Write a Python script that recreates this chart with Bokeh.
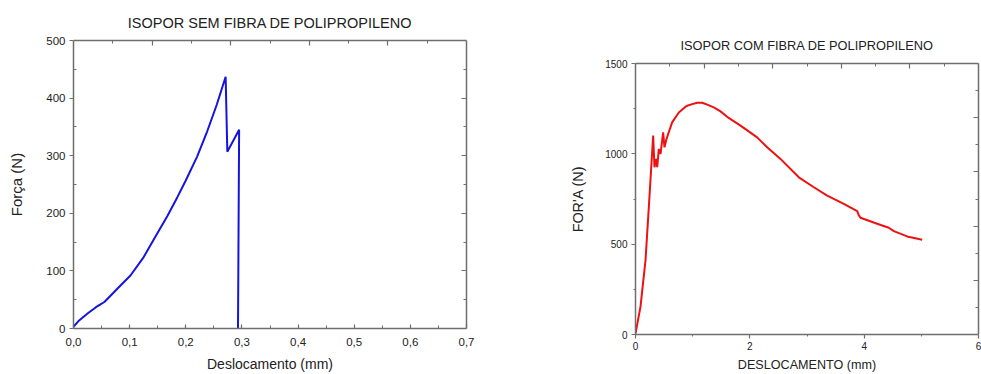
from bokeh.plotting import figure
from bokeh.layouts import row, column
from bokeh.models import Range1d, LinearAxis, FixedTicker, CustomJSTickFormatter, Spacer
from bokeh.embed import file_html
from bokeh.resources import INLINE

# ---- data: left chart (sem fibra) ----
sem_x = [0.0, 0.010, 0.025, 0.040, 0.048, 0.055, 0.072, 0.085, 0.1015, 0.125, 0.145, 0.167, 0.185,
         0.1995, 0.220, 0.238, 0.255, 0.271, 0.274, 0.295, 0.293]
sem_y = [3, 14, 26, 37, 42, 46, 63, 76, 92, 124, 158, 195, 228, 256, 298, 342, 388, 437, 307, 345, 0]

# ---- data: right chart (com fibra) ----
com_x = [0.0, 0.087, 0.175, 0.233, 0.309, 0.332, 0.36, 0.38, 0.408, 0.437, 0.484, 0.507, 0.542,
         0.641, 0.758, 0.875, 0.904, 0.991, 1.079, 1.166, 1.254, 1.37, 1.487, 1.603, 1.837, 2.128,
         2.303, 2.536, 2.857, 3.12, 3.353, 3.644, 3.878, 3.907, 3.936, 4.227, 4.431, 4.519, 4.752,
         5.015]
com_y = [5, 153, 410, 705, 1101, 926, 972, 926, 1027, 999, 1119, 1036, 1082, 1174, 1229, 1261,
         1266, 1275, 1283, 1283, 1272, 1257, 1235, 1205, 1156, 1091, 1036, 972, 870, 815, 769, 723,
         683, 659, 646, 613, 591, 572, 543, 525]

left_xticks = [0.0, 0.1, 0.2, 0.3, 0.4, 0.5, 0.6, 0.7]
left_yticks = [0, 100, 200, 300, 400, 500]
right_xticks = [0, 2, 4, 6]
right_yticks = [0, 500, 1000, 1500]

FONT = "Liberation Sans"
AX = "#6e6e6e"
TXT = "#222222"


def style_axis(ax, labels=True):
    ax.axis_line_color = AX
    ax.axis_line_width = 1.5
    ax.major_tick_line_color = AX
    ax.minor_tick_line_color = AX
    ax.major_tick_line_width = 1.2
    ax.minor_tick_line_width = 1.0
    ax.major_label_text_font = FONT
    ax.major_label_text_color = TXT
    ax.axis_label_text_font = FONT
    ax.axis_label_text_font_style = "normal"
    ax.axis_label_text_color = TXT
    if not labels:
        ax.major_label_text_alpha = 0
        ax.major_label_text_font_size = "0px"
        ax.major_label_standoff = 0
        ax.major_tick_in = 5
        ax.major_tick_out = 0
        ax.minor_tick_in = 3
        ax.minor_tick_out = 0


def make_fig(width, height, xr, yr, title, borders, tsize, tstand):
    p = figure(width=width, height=height, x_range=Range1d(*xr), y_range=Range1d(*yr),
               output_backend="svg", toolbar_location=None, title=title,
               min_border_left=borders[0], min_border_right=borders[1],
               min_border_top=borders[2], min_border_bottom=borders[3])
    p.grid.visible = False
    p.outline_line_color = None
    p.title.text_font = FONT
    p.title.text_font_size = tsize
    p.title.text_font_style = "normal"
    p.title.text_color = TXT
    p.title.align = "center"
    p.title.standoff = tstand
    return p


# ---------- left ----------
p1 = make_fig(548, 374, (0, 0.7), (0, 500), "ISOPOR SEM FIBRA DE POLIPROPILENO", (73, 82, 40, 44), "14.5px", 19)
p1.line(sem_x, sem_y, line_color="#1414e0", line_width=2)
p1.xaxis.ticker = FixedTicker(ticks=left_xticks, minor_ticks=[0.05, 0.15, 0.25, 0.35, 0.45, 0.55, 0.65])
p1.xaxis.formatter = CustomJSTickFormatter(code="return tick.toFixed(1).replace('.', ',');")
p1.yaxis.ticker = FixedTicker(ticks=left_yticks, minor_ticks=[50, 150, 250, 350, 450])
p1.xaxis.axis_label = "Deslocamento (mm)"
p1.yaxis.axis_label = "Força (N)"
for ax in p1.xaxis + p1.yaxis:
    style_axis(ax)
    ax.major_label_text_font_size = "11.5px"
    ax.major_tick_in = 4
    ax.major_tick_out = 0
    ax.minor_tick_in = 3
    ax.minor_tick_out = 0
p1.xaxis.axis_label_text_font_size = "14px"
p1.xaxis.major_label_standoff = 9
p1.xaxis.axis_label_standoff = 7
p1.yaxis.axis_label_text_font_size = "15px"
p1.yaxis.major_tick_in = 0
p1.yaxis.major_tick_out = 4
p1.yaxis.major_label_standoff = 4
p1.yaxis.axis_label_standoff = 18

top1 = LinearAxis(ticker=FixedTicker(ticks=[0.14, 0.28, 0.42, 0.56], minor_ticks=[0.07, 0.21, 0.35, 0.49, 0.63]))
style_axis(top1, labels=False)
p1.add_layout(top1, "above")
right1 = LinearAxis(ticker=FixedTicker(ticks=[100, 200, 300, 400], minor_ticks=[50, 150, 250, 350, 450]))
style_axis(right1, labels=False)
p1.add_layout(right1, "right")

# ---------- right ----------
p2 = make_fig(433, 356, (0, 6), (0, 1500), "ISOPOR COM FIBRA DE POLIPROPILENO", (87, 3, 45, 40), "12.8px", 22)
p2.line(com_x, com_y, line_color="#ee1111", line_width=2)
p2.xaxis.ticker = FixedTicker(ticks=right_xticks, minor_ticks=[1, 3, 5])
p2.yaxis.ticker = FixedTicker(ticks=right_yticks, minor_ticks=[250, 750, 1250])
p2.xaxis.axis_label = "DESLOCAMENTO (mm)"
p2.yaxis.axis_label = "FOR'A (N)"
for ax in p2.xaxis + p2.yaxis:
    style_axis(ax)
    ax.major_label_text_font_size = "10px"
    ax.major_tick_in = 0
    ax.major_tick_out = 4
    ax.minor_tick_in = 0
    ax.minor_tick_out = 2
    ax.major_label_standoff = 4
p2.xaxis.major_label_standoff = 3
p2.xaxis.axis_label_text_font_size = "12.6px"
p2.xaxis.axis_label_standoff = 5
p2.yaxis.axis_label_text_font_size = "14.4px"
p2.yaxis.axis_label_standoff = 16

top2 = LinearAxis(ticker=FixedTicker(ticks=[1.2, 2.4, 3.6, 4.8], minor_ticks=[0.6, 1.8, 3.0, 4.2, 5.4]))
style_axis(top2, labels=False)
p2.add_layout(top2, "above")
right2 = LinearAxis(ticker=FixedTicker(ticks=[300, 600, 900, 1200], minor_ticks=[150, 450, 750, 1050, 1350]))
style_axis(right2, labels=False)
p2.add_layout(right2, "right")

layout = row(p1, column(Spacer(width=433, height=18), p2))
open("out.html", "w").write(file_html(layout, INLINE))
